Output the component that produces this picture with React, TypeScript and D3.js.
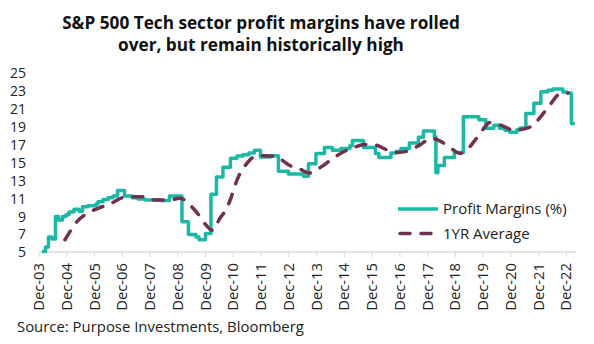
import React from "react";
import * as d3 from "d3";

// Profit margins (%) — change points (decimal year) and values, drawn as steps
const profitDates = [
  2004.025, 2004.151, 2004.259, 2004.385, 2004.511, 2004.619, 2004.763, 2004.889, 2004.997,
  2005.177, 2005.357, 2005.483, 2005.681, 2005.970, 2006.042, 2006.222, 2006.402, 2006.582,
  2006.744, 2006.996, 2007.266, 2007.482, 2007.734, 2008.274, 2008.616, 2009.066, 2009.300,
  2009.571, 2009.679, 2009.913, 2010.111, 2010.309, 2010.543, 2010.813, 2011.047, 2011.263,
  2011.479, 2011.677, 2011.893, 2012.250, 2012.541, 2012.901, 2013.442, 2013.622, 2013.892,
  2014.198, 2014.486, 2014.792, 2015.116, 2015.206, 2015.602, 2016.035, 2016.160, 2016.593,
  2016.773, 2016.953, 2017.259, 2017.583, 2017.763, 2018.159, 2018.213, 2018.285, 2018.519,
  2018.879, 2019.203, 2019.761, 2020.013, 2020.301, 2020.499, 2020.698, 2020.878, 2021.130,
  2021.238, 2021.454, 2021.742, 2021.994, 2022.246, 2022.426, 2022.786, 2022.930, 2023.092,
  2023.218,
];
const profitValues = [
  5.1, 5.6, 6.7, 6.5, 9.0, 8.6, 9.0, 9.2, 9.5,
  9.8, 9.6, 10.1, 10.2, 10.4, 10.65, 10.9, 11.1, 11.3,
  11.9, 11.3, 11.1, 10.95, 10.85, 10.8, 11.3, 8.4, 7.0,
  6.7, 6.4, 7.1, 11.5, 13.4, 14.5, 15.5, 15.75, 15.9,
  16.1, 16.4, 15.65, 15.8, 14.05, 13.75, 13.5, 14.9, 16.05,
  16.7, 16.4, 16.6, 16.9, 17.5, 16.7, 16.05, 15.6, 16.1,
  16.25, 16.6, 17.2, 17.85, 18.55, 17.9, 13.9, 14.7, 15.6,
  16.15, 20.15, 19.8, 18.85, 19.2, 18.85, 18.65, 18.4, 18.7,
  18.9, 20.5, 21.65, 22.95, 23.1, 23.25, 22.9, 22.8, 19.4,
  19.4,
];

// 1YR Average
const avgDates = [
  2004.853, 2005.095, 2005.368, 2005.692, 2006.114, 2006.474, 2006.931, 2007.313, 2007.734,
  2008.094, 2008.634, 2008.994, 2009.416, 2009.653, 2009.931, 2010.165, 2010.435, 2010.676,
  2010.856, 2010.975, 2011.155, 2011.396, 2011.767, 2012.116, 2012.595, 2012.919, 2013.344,
  2013.640, 2014.108, 2014.396, 2014.810, 2015.177, 2015.656, 2016.016, 2016.484, 2016.855,
  2017.277, 2017.637, 2018.058, 2018.357, 2018.807, 2019.077, 2019.318, 2019.617, 2019.916,
  2020.158, 2020.637, 2020.997, 2021.479, 2021.778, 2022.077, 2022.318, 2022.678, 2022.977,
];
const avgValues = [
  6.4, 7.6, 8.7, 9.4, 10.0, 10.4, 11.1, 11.2, 11.2,
  10.85, 10.85, 11.05, 10.1, 9.25, 8.05, 7.45, 8.8, 9.9,
  11.3, 12.45, 13.8, 14.9, 15.8, 15.8, 15.45, 14.75, 14.25,
  13.85, 14.6, 15.25, 16.1, 16.6, 17.05, 17.0, 16.4, 16.15,
  16.4, 17.0, 17.75, 17.45, 16.5, 16.05, 16.4, 17.5, 18.75,
  19.5, 19.1, 18.65, 18.85, 19.4, 20.5, 21.45, 22.7, 22.8,
];

const yTicks = [5, 7, 9, 11, 13, 15, 17, 19, 21, 23, 25];
const xTickYears = d3.range(2003, 2023);
const xTickLabels = xTickYears.map((yr) => `Dec-${String(yr % 100).padStart(2, "0")}`);

const titleLines = [
  "S&P 500 Tech sector profit margins have rolled",
  "over, but remain historically high",
];
const seriesNames = ["Profit Margins (%)", "1YR Average"];
const sourceText = "Source: Purpose Investments, Bloomberg";

const TEAL = "#1CB8A6";
const MAROON = "#71304F";
const FONT = "'Open Sans', 'DejaVu Sans', sans-serif";

export default function App() {
  const W = 594;
  const H = 344;
  const x = d3.scaleLinear().domain([2003.917, 2023.26]).range([39, 576]);
  const y = d3.scaleLinear().domain([5, 25]).range([252.3, 73.3]);

  const profitPath = d3
    .line<number>()
    .x((_, i) => x(profitDates[i]))
    .y((d) => y(d))
    .curve(d3.curveStepAfter)(profitValues);

  const avgPath = d3
    .line<number>()
    .x((_, i) => x(avgDates[i]))
    .y((d) => y(d))
    .curve(d3.curveMonotoneX)(avgValues);

  const axisY = 252;

  return (
    <svg
      width={W}
      height={H}
      style={{ position: "absolute", left: 0, top: 0, background: "#fff" }}
      fontFamily={FONT}
    >
      <rect x={0} y={0} width={W} height={H} fill="#fff" />
      {titleLines.map((t, i) => (
        <text
          key={i}
          x={261}
          y={29 + i * 22}
          textAnchor="middle"
          fontSize={17.2}
          fontWeight={700}
          fill="#111"
        >
          {t}
        </text>
      ))}

      {/* y tick labels */}
      {yTicks.map((v) => (
        <text key={v} x={26} y={y(v) + 5} textAnchor="end" fontSize={14} fill="#222">
          {v}
        </text>
      ))}

      {/* x axis */}
      <line x1={39} x2={576} y1={axisY} y2={axisY} stroke="#D9D9D9" strokeWidth={1.5} />
      {xTickYears.map((yr, i) => {
        const xx = x(yr + 0.917);
        return (
          <g key={yr}>
            <line x1={xx} x2={xx} y1={axisY} y2={axisY + 5} stroke="#D9D9D9" strokeWidth={1} />
            <text
              transform={`translate(${xx + 5},${axisY + 11}) rotate(-90)`}
              textAnchor="end"
              fontSize={14.8}
              fill="#222"
            >
              {xTickLabels[i]}
            </text>
          </g>
        );
      })}

      {/* series */}
      <path d={profitPath || ""} fill="none" stroke={TEAL} strokeWidth={3.5} strokeLinejoin="round" />
      <path
        d={avgPath || ""}
        fill="none"
        stroke={MAROON}
        strokeWidth={3.5}
        strokeDasharray="10 11"
        strokeLinecap="round"
      />

      {/* legend */}
      <line x1={398} x2={438} y1={209} y2={209} stroke={TEAL} strokeWidth={3.5} />
      <text x={443} y={214} fontSize={15} fill="#222">
        {seriesNames[0]}
      </text>
      <line
        x1={400}
        x2={436}
        y1={233.5}
        y2={233.5}
        stroke={MAROON}
        strokeWidth={3.5}
        strokeDasharray="10 11"
        strokeLinecap="round"
      />
      <text x={443} y={238.5} fontSize={15} fill="#222">
        {seriesNames[1]}
      </text>

      <text x={17} y={332} fontSize={14.9} fill="#222">
        {sourceText}
      </text>
    </svg>
  );
}
